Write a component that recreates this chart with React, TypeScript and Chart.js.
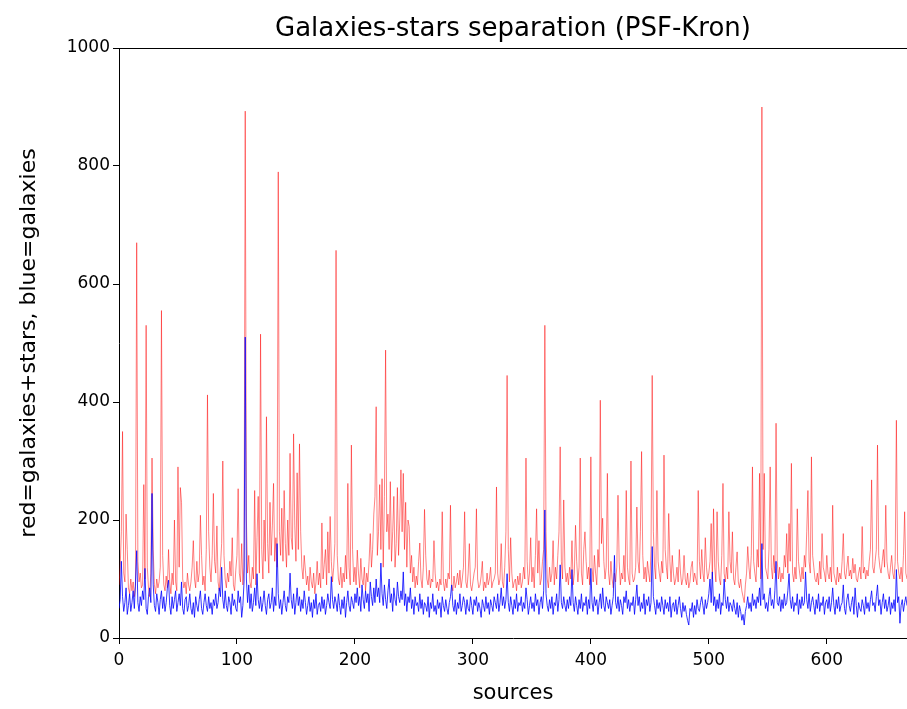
import React, { useEffect, useRef } from "react";
import { Chart, registerables } from "chart.js";

Chart.register(...registerables);

const TITLE = "Galaxies-stars separation (PSF-Kron)";
const X_LABEL = "sources";
const Y_LABEL = "red=galaxies+stars, blue=galaxies";
const X_TICKS = [0, 100, 200, 300, 400, 500, 600];
const Y_TICKS = [0, 200, 400, 600, 800, 1000];
const X_MAX = 668;

// red = galaxies + stars
const redSeries = [
  90, 120, 180, 350, 110, 95, 210, 150, 85, 75, 100, 80, 95, 70, 88, 670, 130, 95, 110, 85,
  90, 260, 100, 530, 120, 85, 70, 110, 305, 150, 90, 75, 100, 85, 95, 120, 555, 140, 90, 80,
  105, 85, 150, 95, 75, 110, 90, 200, 95, 80, 290, 120, 255, 230, 100, 85, 95, 75, 110, 90,
  80, 95, 120, 165, 100, 85, 130, 95, 110, 208, 140, 90, 105, 80, 150, 412, 180, 120, 95, 140,
  245, 130, 110, 190, 95, 80, 120, 160, 300, 140, 100, 85, 110, 95, 130, 105, 170, 90, 80, 115,
  140, 253, 110, 95, 160, 90, 120, 893, 200, 110, 140, 95, 85, 120, 100, 250, 90, 170, 240, 110,
  515, 150, 100, 200, 130, 375, 160, 110, 230, 140, 190, 262, 130, 170, 120, 790, 180, 140, 220, 130,
  250, 160, 120, 200, 140, 313, 170, 150, 346, 190, 130, 280, 150, 329, 180, 120, 100, 140, 115, 90,
  105, 80, 120, 95, 85, 110, 75, 95, 130, 90, 110, 85, 195, 100, 125, 150, 90, 180, 110, 206,
  130, 95, 120, 160, 657, 140, 100, 90, 120, 85, 110, 95, 140, 100, 262, 120, 90, 327, 150, 95,
  120, 90, 149, 110, 85, 135, 100, 90, 120, 80, 110, 95, 130, 177, 120, 150, 210, 240, 392, 140,
  180, 260, 150, 270, 120, 240, 488, 180, 210, 150, 265, 130, 180, 240, 120, 160, 255, 140, 200, 285,
  180, 279, 150, 230, 120, 200, 189, 110, 140, 95, 120, 85, 105, 90, 130, 161, 100, 85, 120, 218,
  140, 100, 90, 115, 85, 100, 95, 165, 110, 85, 95, 80, 100, 90, 214, 95, 80, 100, 85, 110,
  100, 225, 90, 80, 105, 85, 95, 110, 90, 115, 85, 100, 120, 214, 95, 85, 110, 160, 90, 80,
  95, 110, 120, 219, 100, 85, 90, 105, 130, 80, 95, 85, 110, 90, 100, 120, 85, 95, 100, 110,
  256, 110, 90, 100, 160, 95, 85, 120, 180, 445, 150, 95, 170, 110, 85, 95, 100, 80, 105, 90,
  110, 85, 95, 120, 100, 305, 130, 90, 110, 170, 95, 120, 85, 140, 219, 110, 165, 90, 100, 130,
  150, 530, 180, 100, 85, 120, 95, 110, 165, 90, 120, 100, 140, 180, 324, 130, 100, 234, 120, 95,
  110, 90, 120, 100, 165, 90, 110, 191, 130, 95, 120, 305, 110, 90, 150, 180, 130, 100, 120, 90,
  307, 120, 95, 140, 110, 90, 150, 120, 403, 160, 203, 130, 100, 120, 279, 110, 90, 130, 100, 85,
  110, 95, 120, 242, 130, 90, 110, 100, 140, 95, 250, 120, 100, 90, 300, 110, 95, 100, 120, 222,
  130, 110, 180, 316, 140, 100, 120, 95, 130, 110, 95, 150, 445, 180, 120, 100, 250, 130, 110, 95,
  130, 110, 310, 150, 120, 100, 211, 130, 95, 140, 110, 90, 100, 120, 95, 150, 110, 90, 100, 140,
  100, 90, 110, 85, 95, 120, 130, 95, 110, 100, 90, 250, 130, 100, 150, 110, 95, 170, 120, 100,
  110, 130, 194, 100, 219, 120, 95, 214, 130, 100, 90, 140, 262, 110, 95, 120, 100, 214, 130, 110,
  180, 100, 90, 120, 146, 95, 85, 100, 80, 70, 60, 90, 110, 155, 120, 100, 140, 290, 130, 110,
  95, 150, 120, 279, 100, 900, 150, 279, 120, 110, 100, 150, 290, 120, 100, 140, 110, 364, 130, 100,
  120, 95, 110, 100, 140, 120, 177, 110, 194, 130, 296, 110, 95, 120, 100, 219, 130, 110, 95, 120,
  100, 140, 120, 180, 250, 130, 110, 307, 140, 120, 100, 95, 110, 90, 130, 100, 177, 120, 110, 95,
  140, 110, 100, 120, 95, 225, 110, 100, 90, 120, 95, 110, 100, 130, 177, 110, 100, 120, 139, 105,
  115, 100, 135, 110, 125, 100, 95, 110, 120, 100, 189, 110, 120, 100, 115, 105, 130, 150, 268, 120,
  110, 130, 150, 327, 140, 120, 110, 130, 150, 120, 225, 130, 110, 100, 120, 140, 110, 100, 130, 369,
  130, 110, 100, 120, 95, 140, 214, 110, 100,
];

// blue = galaxies
const blueSeries = [
  50, 65, 130, 70, 45, 60, 85, 40, 55, 75, 45, 60, 80, 50, 95, 148, 60, 45, 70, 55,
  80, 65, 118, 50, 40, 70, 85, 60, 245, 90, 55, 45, 75, 60, 40, 65, 80, 50, 70, 45,
  60, 85, 98, 55, 40, 70, 50, 65, 80, 45, 60, 75, 55, 95, 50, 40, 65, 70, 45, 55,
  75, 50, 40, 60, 35, 70, 55, 45, 65, 80, 50, 40, 60, 75, 55, 45, 70, 50, 60, 40,
  65, 55, 75, 50, 60, 85, 70, 120, 65, 50, 80, 55, 45, 70, 60, 40, 75, 55, 65, 50,
  45, 80, 60, 70, 35, 55, 95, 510, 100, 60, 90, 50, 75, 45, 60, 85, 55, 109, 65, 50,
  70, 45, 60, 80, 55, 40, 65, 75, 50, 60, 85, 45, 70, 55, 160, 75, 50, 65, 40, 60,
  80, 55, 45, 70, 60, 110, 65, 50, 75, 40, 60, 85, 55, 70, 45, 65, 50, 80, 60, 40,
  55, 70, 45, 60, 35, 65, 50, 75, 40, 55, 60, 45, 70, 50, 65, 40, 55, 75, 60, 50,
  104, 65, 50, 70, 60, 45, 75, 55, 40, 65, 50, 70, 35, 60, 80, 55, 45, 70, 60, 50,
  75, 60, 85, 55, 70, 45, 90, 65, 50, 80, 60, 75, 45, 95, 70, 55, 85, 60, 100, 70,
  85, 60, 127, 75, 55, 90, 65, 50, 80, 100, 60, 75, 45, 85, 65, 55, 95, 70, 60, 80,
  65, 112, 55, 75, 45, 70, 60, 85, 50, 65, 40, 70, 55, 60, 45, 75, 50, 65, 40, 60,
  55, 45, 70, 35, 60, 50, 75, 45, 55, 40, 65, 50, 60, 35, 70, 55, 45, 65, 50, 40,
  60, 70, 90, 55, 45, 65, 40, 60, 50, 75, 45, 55, 70, 60, 40, 65, 50, 45, 70, 55,
  40, 65, 55, 70, 45, 60, 50, 35, 65, 55, 45, 70, 50, 60, 40, 65, 55, 45, 70, 60,
  50, 75, 45, 60, 85, 55, 70, 50, 65, 109, 60, 45, 70, 55, 40, 65, 50, 75, 45, 60,
  55, 70, 45, 60, 50, 85, 65, 40, 55, 70, 50, 60, 45, 75, 55, 65, 40, 60, 70, 50,
  80, 217, 75, 55, 45, 65, 50, 70, 40, 60, 55, 75, 45, 65, 124, 60, 50, 70, 55, 45,
  65, 50, 70, 55, 116, 60, 45, 70, 55, 40, 65, 50, 75, 45, 60, 55, 70, 40, 65, 50,
  118, 60, 45, 70, 55, 65, 40, 60, 75, 50, 85, 55, 45, 70, 60, 50, 65, 40, 55, 70,
  140, 60, 50, 70, 45, 65, 55, 40, 70, 60, 80, 50, 65, 45, 60, 55, 70, 40, 65, 90,
  55, 70, 45, 60, 50, 75, 40, 65, 55, 70, 45, 60, 155, 70, 55, 40, 65, 50, 60, 45,
  70, 55, 40, 65, 50, 60, 45, 70, 35, 55, 60, 45, 65, 40, 55, 70, 50, 35, 60, 45,
  55, 40, 30, 22, 50, 45, 60, 35, 55, 40, 65, 50, 45, 60, 70, 55, 40, 65, 50, 60,
  75, 100, 60, 112, 55, 70, 45, 65, 50, 75, 40, 60, 55, 100, 65, 50, 70, 45, 60, 55,
  45, 65, 50, 40, 60, 35, 55, 45, 30, 40, 22, 45, 55, 70, 50, 60, 45, 75, 55, 65,
  50, 70, 60, 85, 55, 160, 65, 75, 50, 60, 45, 70, 85, 55, 65, 50, 80, 130, 60, 55,
  70, 45, 65, 50, 75, 55, 60, 80, 109, 65, 50, 70, 45, 60, 55, 75, 40, 65, 50, 70,
  55, 60, 112, 65, 50, 75, 45, 60, 70, 55, 40, 65, 50, 75, 45, 60, 55, 70, 40, 60,
  65, 50, 70, 45, 60, 85, 55, 40, 65, 50, 70, 45, 55, 60, 90, 50, 40, 65, 75, 55,
  45, 60, 70, 40, 85, 55, 35, 60, 50, 45, 65, 55, 40, 70, 50, 60, 45, 65, 80, 55,
  60, 45, 70, 90, 55, 65, 40, 60, 75, 50, 65, 45, 55, 70, 40, 60, 50, 65, 45, 116,
  60, 70, 25, 55, 65, 45, 60, 70, 55,
];

const FONT = '"DejaVu Sans", sans-serif';

const framePlugin = {
  id: "frameAndText",
  afterDraw(chart: any) {
    const { ctx, chartArea } = chart;
    const { left, top, right, bottom } = chartArea;
    ctx.save();
    ctx.strokeStyle = "#000";
    ctx.lineWidth = 1;
    ctx.beginPath();
    ctx.moveTo(left, Math.round(top) + 0.5);
    ctx.lineTo(right, Math.round(top) + 0.5);
    ctx.stroke();
    ctx.fillStyle = "#000";
    ctx.textAlign = "center";
    ctx.textBaseline = "alphabetic";
    ctx.font = `26px ${FONT}`;
    ctx.fillText(TITLE, (left + right) / 2, 36);
    ctx.font = `21px ${FONT}`;
    ctx.fillText(X_LABEL, (left + right) / 2, 699);
    ctx.font = `22px ${FONT}`;
    ctx.translate(29, (top + bottom) / 2);
    ctx.rotate(-Math.PI / 2);
    ctx.textBaseline = "middle";
    ctx.fillText(Y_LABEL, 0, 0);
    ctx.restore();
  },
};

export default function App() {
  const canvasRef = useRef<HTMLCanvasElement | null>(null);

  useEffect(() => {
    const canvas = canvasRef.current;
    if (!canvas) return;
    const labels = redSeries.map((_, i) => i);
    const chart = new Chart(canvas, {
      type: "line",
      data: {
        labels,
        datasets: [
          {
            label: "galaxies",
            data: blueSeries,
            borderColor: "rgb(0,0,255)",
            borderWidth: 0.8,
            pointRadius: 0,
            tension: 0,
            order: 0,
          },
          {
            label: "galaxies+stars",
            data: redSeries,
            borderColor: "rgba(255,0,0,0.55)",
            borderWidth: 0.9,
            pointRadius: 0,
            tension: 0,
            order: 1,
          },
        ],
      },
      options: {
        animation: false,
        responsive: false,
        devicePixelRatio: 1,
        layout: { padding: { left: 0, top: 48, right: 0, bottom: 0 } },
        plugins: {
          legend: { display: false },
          tooltip: { enabled: false },
          title: { display: false },
        },
        scales: {
          x: {
            type: "linear",
            min: 0,
            max: X_MAX,
            afterBuildTicks: (scale: any) => {
              scale.ticks = X_TICKS.map((v) => ({ value: v }));
            },
            afterFit: (scale: any) => {
              scale.height = 71;
            },
            grid: {
              display: true,
              drawOnChartArea: false,
              drawTicks: true,
              tickLength: 6,
              color: "#000",
            },
            border: { display: true, color: "#000", width: 1 },
            ticks: {
              color: "#000",
              font: { family: FONT, size: 17 },
              padding: 6,
              maxRotation: 0,
              autoSkip: false,
              callback: (v: any) => String(v),
            },
          },
          y: {
            type: "linear",
            min: 0,
            max: 1000,
            afterBuildTicks: (scale: any) => {
              scale.ticks = Y_TICKS.map((v) => ({ value: v }));
            },
            afterFit: (scale: any) => {
              scale.width = 119;
            },
            grid: {
              display: true,
              drawOnChartArea: false,
              drawTicks: true,
              tickLength: 6,
              color: "#000",
            },
            border: { display: true, color: "#000", width: 1 },
            ticks: {
              color: "#000",
              font: { family: FONT, size: 17 },
              padding: 3,
              autoSkip: false,
              callback: (v: any) => String(v),
            },
          },
        },
      },
      plugins: [framePlugin],
    });
    return () => chart.destroy();
  }, []);

  return (
    <div style={{ position: "absolute", left: 0, top: 0, width: 907, height: 709, background: "#fff" }}>
      <canvas ref={canvasRef} width={907} height={709} />
    </div>
  );
}
